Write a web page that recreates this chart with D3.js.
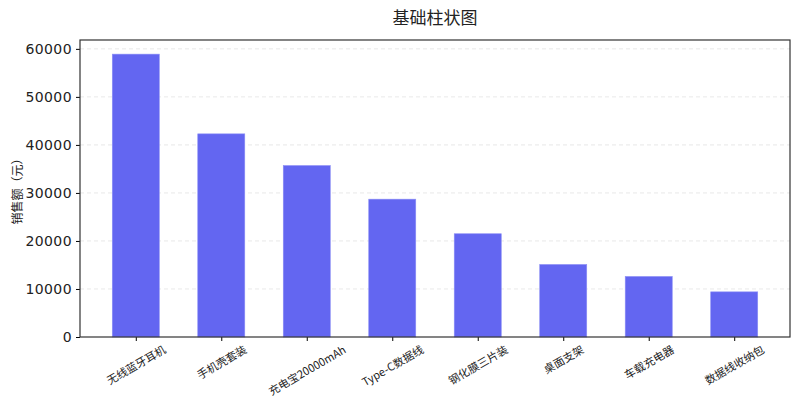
<!DOCTYPE html>
<html>
<head>
<meta charset="utf-8">
<script src="https://cdn.jsdelivr.net/npm/d3@7"></script>
<style>
  body { margin: 0; background: #fff; }
  text { font-family: "Noto Sans CJK SC", "Noto Sans", sans-serif; fill: #222; }
</style>
</head>
<body>
<div id="container"></div>
<script>
// data
const categories = ['无线蓝牙耳机', '手机壳套装', '充电宝20000mAh', 'Type-C数据线', '钢化膜三片装', '桌面支架', '车载充电器', '数据线收纳包'];
const sales = [58900, 42300, 35700, 28700, 21500, 15100, 12600, 9400];
const yTicks = [0, 10000, 20000, 30000, 40000, 50000, 60000];

// dimensions
const W = 800, H = 414;
const margin = { top: 40, right: 10, bottom: 77, left: 80 };
const width = W - margin.left - margin.right;
const height = H - margin.top - margin.bottom;
const barW = 0.55;

const svg = d3.select('#container')
  .append('svg')
  .attr('width', W)
  .attr('height', H);

const g = svg.append('g')
  .attr('transform', `translate(${margin.left}, ${margin.top})`);

// scales (matplotlib-like margins)
const span = (categories.length - 1) + barW;
const pad = span * 0.05;
const xScale = d3.scaleLinear()
  .domain([-barW / 2 - pad, categories.length - 1 + barW / 2 + pad])
  .range([0, width]);

const yScale = d3.scaleLinear()
  .domain([0, d3.max(sales) * 1.05])
  .range([height, 0]);

// grid
g.append('g')
  .selectAll('line')
  .data(yTicks.slice(1))
  .join('line')
  .attr('x1', 0)
  .attr('x2', width)
  .attr('y1', d => yScale(d))
  .attr('y2', d => yScale(d))
  .attr('stroke', '#e2e2e2')
  .attr('stroke-width', 0.8)
  .attr('stroke-dasharray', '4,3');

// bars
g.append('g')
  .selectAll('rect')
  .data(sales)
  .join('rect')
  .attr('x', (d, i) => xScale(i - barW / 2))
  .attr('y', d => yScale(d))
  .attr('width', (d, i) => xScale(i + barW / 2) - xScale(i - barW / 2))
  .attr('height', d => height - yScale(d))
  .attr('fill', '#6366f1')
  .attr('stroke', '#8b8ef5')
  .attr('stroke-width', 0.6);

// axes
const yAxis = d3.axisLeft(yScale).tickValues(yTicks).tickFormat(d3.format('d')).tickSize(4).tickPadding(4);
const yG = g.append('g').call(yAxis);
yG.select('.domain').remove();
yG.selectAll('text')
  .style('font-family', '"DejaVu Sans", sans-serif')
  .style('font-size', '14px')
  .style('letter-spacing', '0.4px');

const xAxis = d3.axisBottom(xScale)
  .tickValues(d3.range(categories.length))
  .tickFormat(i => categories[i])
  .tickSize(4).tickPadding(4);
const xG = g.append('g').attr('transform', `translate(0, ${height})`).call(xAxis);
xG.select('.domain').remove();
// rotated labels centred under the tick (like ha='center')
xG.selectAll('text')
  .style('font-size', '11px')
  .attr('text-anchor', 'middle')
  .attr('y', 0)
  .attr('dy', '0.35em')
  .attr('transform', function () {
    const w = this.getComputedTextLength();
    const h = 11;
    const bh = w * 0.5 + h * 0.866;
    return `translate(0, ${7 + bh / 2}) rotate(-30)`;
  });

// frame
g.append('rect')
  .attr('width', width)
  .attr('height', height)
  .attr('fill', 'none')
  .attr('stroke', '#333')
  .attr('stroke-width', 1.2);

// title
svg.append('text')
  .attr('x', margin.left + width / 2)
  .attr('y', 24)
  .attr('text-anchor', 'middle')
  .style('font-size', '17px')
  .text('基础柱状图');

// y label
svg.append('text')
  .attr('transform', `translate(22, ${margin.top + height / 2}) rotate(-90)`)
  .attr('text-anchor', 'middle')
  .style('font-size', '12px')
  .text('销售额（元）');
</script>
</body>
</html>
